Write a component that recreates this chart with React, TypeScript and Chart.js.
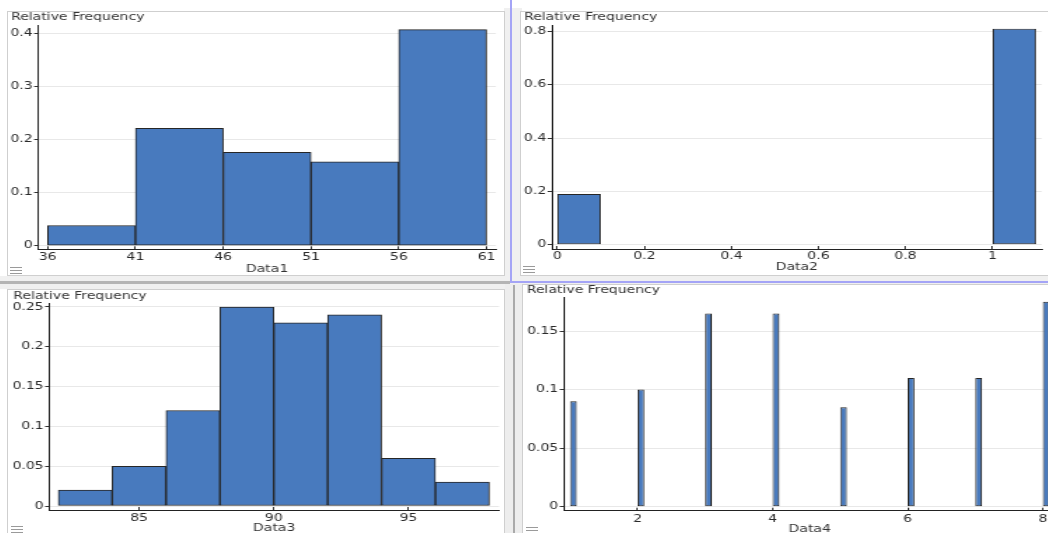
import React, { useEffect, useRef } from "react";
import { Chart, registerables } from "chart.js";

Chart.register(...registerables);

// ---------------- data ----------------
const data1BinStarts = [36, 41, 46, 51, 56];
const data1BinWidth = 5;
const data1Freq = [0.038, 0.221, 0.176, 0.158, 0.407];
const data1XTicks = [36, 41, 46, 51, 56, 61];
const data1XTickLabels = ["36", "41", "46", "51", "56", "61"];
const data1YTicks = [0, 0.1, 0.2, 0.3, 0.4];
const data1YTickLabels = ["0", "0.1", "0.2", "0.3", "0.4"];

const data2BinStarts = [0, 1];
const data2BinWidth = 0.1;
const data2Freq = [0.19, 0.81];
const data2XTicks = [0, 0.2, 0.4, 0.6, 0.8, 1];
const data2XTickLabels = ["0", "0.2", "0.4", "0.6", "0.8", "1"];
const data2YTicks = [0, 0.2, 0.4, 0.6, 0.8];
const data2YTickLabels = ["0", "0.2", "0.4", "0.6", "0.8"];

const data3BinStarts = [82, 84, 86, 88, 90, 92, 94, 96];
const data3BinWidth = 2;
const data3Freq = [0.02, 0.05, 0.12, 0.25, 0.23, 0.24, 0.06, 0.03];
const data3XTicks = [85, 90, 95];
const data3XTickLabels = ["85", "90", "95"];
const data3YTicks = [0, 0.05, 0.1, 0.15, 0.2, 0.25];
const data3YTickLabels = ["0", "0.05", "0.1", "0.15", "0.2", "0.25"];

const data4BinStarts = [1, 2, 3, 4, 5, 6, 7, 8];
const data4BinWidth = 0.1;
const data4Freq = [0.09, 0.1, 0.165, 0.165, 0.085, 0.11, 0.11, 0.175];
const data4XTicks = [2, 4, 6, 8];
const data4XTickLabels = ["2", "4", "6", "8"];
const data4YTicks = [0, 0.05, 0.1, 0.15];
const data4YTickLabels = ["0", "0.05", "0.1", "0.15"];

const Y_TITLE = "Relative Frequency";

// ---------------- styling / layout ----------------
const K = 1.4; // horizontal stretch of the rendered text/graphics
const FONT = "DejaVu Sans";
const BAR_FILL = "#487abe";
const BAR_EDGE = "#262626";

type Spec = {
  starts: number[];
  width: number;
  freq: number[];
  xTicks: number[];
  xLabels: string[];
  yTicks: number[];
  yLabels: string[];
  xTitle: string;
  xMin: number;
  xMax: number;
  yMin: number;
  yMax: number;
  canvasLeft: number;
  canvasWidth: number;
  titleX: number;
  titleY: number;
  plot: { left: number; right: number; top: number; bottom: number };
  xTickY: number;
  xTitleY: number;
};

const panels: Spec[] = [
  {
    starts: data1BinStarts, width: data1BinWidth, freq: data1Freq,
    xTicks: data1XTicks, xLabels: data1XTickLabels, yTicks: data1YTicks, yLabels: data1YTickLabels,
    xTitle: "Data1", xMin: 35.465, xMax: 61.53, yMin: -0.0068, yMax: 0.4156,
    canvasLeft: 8, canvasWidth: 496, titleX: 11, titleY: 17,
    plot: { left: 38.3, right: 496, top: 25, bottom: 249.3 }, xTickY: 257.3, xTitleY: 268.7,
  },
  {
    starts: data2BinStarts, width: data2BinWidth, freq: data2Freq,
    xTicks: data2XTicks, xLabels: data2XTickLabels, yTicks: data2YTicks, yLabels: data2YTickLabels,
    xTitle: "Data2", xMin: -0.0126, xMax: 1.113, yMin: -0.0161, yMax: 0.8236,
    canvasLeft: 521, canvasWidth: 529, titleX: 524, titleY: 17.3,
    plot: { left: 551.8, right: 1041.8, top: 25, bottom: 249 }, xTickY: 256.7, xTitleY: 267.3,
  },
  {
    starts: data3BinStarts, width: data3BinWidth, freq: data3Freq,
    xTicks: data3XTicks, xLabels: data3XTickLabels, yTicks: data3YTicks, yLabels: data3YTickLabels,
    xTitle: "Data3", xMin: 81.666, xMax: 98.36, yMin: -0.005, yMax: 0.2546,
    canvasLeft: 8, canvasWidth: 496, titleX: 13.3, titleY: 295.7,
    plot: { left: 49.3, right: 499, top: 303.3, bottom: 510 }, xTickY: 518.3, xTitleY: 528.3,
  },
  {
    starts: data4BinStarts, width: data4BinWidth, freq: data4Freq,
    xTicks: data4XTicks, xLabels: data4XTickLabels, yTicks: data4YTicks, yLabels: data4YTickLabels,
    xTitle: "Data4", xMin: 0.9087, xMax: 8.188, yMin: -0.0034, yMax: 0.1788,
    canvasLeft: 523, canvasWidth: 540, titleX: 526.8, titleY: 290.3,
    plot: { left: 563.9, right: 1055.5, top: 297.3, bottom: 510.7 }, xTickY: 519.3, xTitleY: 529.3,
  },
];

function minDiff(vals: number[]): number {
  let m = Infinity;
  for (let i = 1; i < vals.length; i++) {
    const d = Math.abs(vals[i] - vals[i - 1]);
    if (d > 1e-9) m = Math.min(m, d);
  }
  return m;
}

function Histogram({ spec }: { spec: Spec }) {
  const ref = useRef<HTMLCanvasElement | null>(null);
  const Wi = Math.round(spec.canvasWidth / K);
  const k = spec.canvasWidth / Wi;
  const canvasTop = Math.round(spec.titleY - 7);
  const Hi = Math.round(spec.xTitleY + 5 - canvasTop);

  useEffect(() => {
    if (!ref.current) return;
    const padLeft = (spec.titleX - spec.canvasLeft) / k;
    const yAxisW = (spec.plot.left - spec.canvasLeft) / k - padLeft;
    const padRight = (spec.canvasLeft + spec.canvasWidth - spec.plot.right) / k;
    const titlePadBottom = spec.plot.top - canvasTop - 13;
    const xAxisH = Hi - (spec.plot.bottom - canvasTop);
    const X_TICK_LEN = -3; // tick marks point up into the plot
    const xTickPad = spec.xTickY - spec.plot.bottom - X_TICK_LEN - 5;

    const centers = spec.starts.map((s) => s + spec.width / 2);
    const spacing = Math.min(minDiff(centers), minDiff(spec.xTicks));
    const pct = spec.width / spacing;

    const chart = new Chart(ref.current, {
      type: "bar",
      data: {
        datasets: [
          {
            data: centers.map((c, i) => ({ x: c, y: spec.freq[i] })),
            backgroundColor: BAR_FILL,
            borderColor: BAR_EDGE,
            borderWidth: 1,
            borderSkipped: false,
            barPercentage: pct,
            categoryPercentage: 1,
          },
        ],
      },
      options: {
        animation: false,
        responsive: false,
        maintainAspectRatio: false,
        devicePixelRatio: 1,
        events: [],
        layout: { padding: { left: padLeft, right: padRight, top: 0, bottom: 0 } },
        plugins: {
          legend: { display: false },
          tooltip: { enabled: false },
          title: {
            display: true,
            text: Y_TITLE,
            align: "start",
            color: "#333",
            font: { family: FONT, size: 10, weight: "normal", lineHeight: 1.2 },
            padding: { top: 1, bottom: titlePadBottom },
          },
        },
        scales: {
          x: {
            type: "linear",
            min: spec.xMin,
            max: spec.xMax,
            offset: false,
            afterBuildTicks: (s: any) => {
              s.ticks = spec.xTicks.map((v) => ({ value: v }));
            },
            afterFit: (s: any) => {
              s.height = xAxisH;
            },
            ticks: {
              autoSkip: false,
              maxRotation: 0,
              padding: xTickPad,
              color: "#2a2a2a",
              font: { family: FONT, size: 10, lineHeight: 1 },
              callback: (_v: any, i: number) => spec.xLabels[i],
            },
            grid: {
              offset: false,
              drawOnChartArea: false,
              drawTicks: true,
              tickLength: X_TICK_LEN,
              tickColor: "#333",
            },
            border: { display: true, color: "#222", width: 1 },
            title: {
              display: true,
              text: spec.xTitle,
              color: "#333",
              font: { family: FONT, size: 10, lineHeight: 1 },
              padding: { top: 0, bottom: 0 },
            },
          },
          y: {
            type: "linear",
            min: spec.yMin,
            max: spec.yMax,
            afterBuildTicks: (s: any) => {
              s.ticks = spec.yTicks.map((v) => ({ value: v }));
            },
            afterFit: (s: any) => {
              s.width = yAxisW;
            },
            ticks: {
              padding: 1,
              color: "#2a2a2a",
              font: { family: FONT, size: 10, lineHeight: 1.2 },
              callback: (_v: any, i: number) => spec.yLabels[i],
            },
            grid: {
              color: "#e8e8e8",
              drawTicks: true,
              tickLength: 3,
              tickColor: "#333",
            },
            border: { display: true, color: "#222", width: 1 },
          },
        },
      } as any,
    });
    return () => chart.destroy();
  }, []);

  return (
    <canvas
      ref={ref}
      width={Wi}
      height={Hi}
      style={{
        position: "absolute",
        left: spec.canvasLeft,
        top: canvasTop,
        width: Wi,
        height: Hi,
        transform: `scaleX(${k})`,
        transformOrigin: "0 0",
      }}
    />
  );
}

function Box(props: { l: number; t: number; w: number; h: number; bg?: string; border?: string }) {
  return (
    <div
      style={{
        position: "absolute",
        left: props.l,
        top: props.t,
        width: props.w,
        height: props.h,
        background: props.bg || "transparent",
        border: props.border,
        boxSizing: "border-box",
      }}
    />
  );
}

function MenuIcon({ l, t }: { l: number; t: number }) {
  return (
    <div style={{ position: "absolute", left: l, top: t, width: 12, height: 7 }}>
      <div style={{ position: "absolute", left: 0, top: 0, width: 12, height: 1, background: "#9a9a9a" }} />
      <div style={{ position: "absolute", left: 0, top: 3, width: 12, height: 1, background: "#9a9a9a" }} />
      <div style={{ position: "absolute", left: 0, top: 6, width: 12, height: 1, background: "#9a9a9a" }} />
    </div>
  );
}

export default function App() {
  return (
    <div
      style={{
        position: "fixed",
        left: 0,
        top: 0,
        width: 1048,
        height: 533,
        overflow: "hidden",
        background: "#ffffff",
        fontFamily: FONT,
      }}
    >
      {/* background strips / splitters */}
      <Box l={504} t={8} w={18} h={276} bg="#f0f0f0" />
      <Box l={0} t={276} w={1048} h={13} bg="#f0f0f0" />
      <Box l={0} t={281} w={510} h={3} bg="#b4b4b4" />
      <Box l={505} t={284} w={17} h={260} bg="#ededed" />
      <Box l={513} t={285} w={2} h={260} bg="#aaaaaa" />
      <Box l={0} t={289} w={7} h={260} bg="#ffffff" />

      {/* panel frames */}
      <Box l={7} t={11} w={498} h={265} bg="#ffffff" border="1px solid #cfcfcf" />
      <Box l={520} t={11} w={560} h={265} bg="#ffffff" border="1px solid #cfcfcf" />
      <Box l={7} t={289} w={498} h={260} bg="#ffffff" border="1px solid #cfcfcf" />
      <Box l={522} t={284} w={560} h={260} bg="#ffffff" border="1px solid #cfcfcf" />

      {/* selection outline of the top-right panel */}
      <Box l={510} t={0} w={2} h={283} bg="#a4a4f6" />
      <Box l={510} t={281} w={560} h={2} bg="#a4a4f6" />

      {panels.map((p, i) => (
        <Histogram key={i} spec={p} />
      ))}

      <MenuIcon l={10} t={267} />
      <MenuIcon l={523} t={266} />
      <MenuIcon l={11} t={526} />
      <MenuIcon l={526} t={527} />
    </div>
  );
}
